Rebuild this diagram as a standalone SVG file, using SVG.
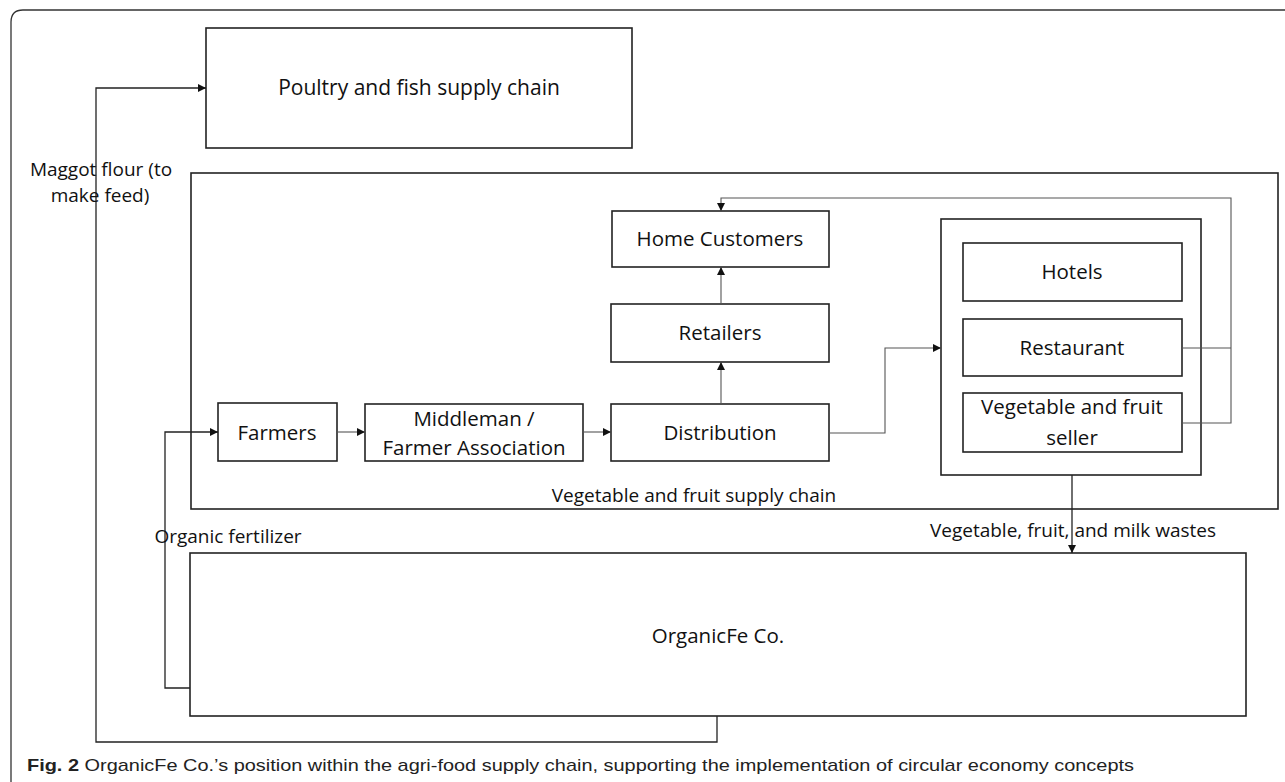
<svg xmlns="http://www.w3.org/2000/svg" width="1285" height="782" viewBox="0 0 1285 782">
<defs>
<marker id="ah" viewBox="0 0 10 10" refX="10" refY="5" markerWidth="8" markerHeight="8" markerUnits="userSpaceOnUse" orient="auto">
<path d="M0,0 L10,5 L0,10 z" fill="#111"/>
</marker>
<style>
.box{fill:#fff;stroke:#222;stroke-width:1.6}
.frame{fill:none;stroke:#222;stroke-width:1.6}
.t{font-family:"Open Sans","Liberation Sans",Arial,sans-serif;fill:#111;text-anchor:middle;font-size:20.5px}
.s{font-size:19px}
.c{fill:none;stroke:#222;stroke-width:1.3}
.cg{fill:none;stroke:#555;stroke-width:1.1}
.cap{font-family:"Liberation Sans",Arial,sans-serif;fill:#222;font-size:17px}
</style>
</defs>
<rect width="1285" height="782" fill="#fff"/>
<path d="M11 782 V22 Q11 10 23 10 H1285" fill="none" stroke="#333" stroke-width="1.3"/>

<g id="poultry">
<rect class="box" x="206" y="28" width="426" height="120"/>
<text class="t" x="419" y="95" style="font-size:21px">Poultry and fish supply chain</text>
</g>

<g id="veg-chain">
<rect class="frame" x="191" y="173" width="1087" height="336"/>
<text class="t s" x="694" y="502">Vegetable and fruit supply chain</text>
</g>

<g id="home-customers">
<rect class="box" x="612" y="211" width="217" height="56"/>
<text class="t" x="720" y="246">Home Customers</text>
</g>
<g id="retailers">
<rect class="box" x="611" y="304" width="218" height="58"/>
<text class="t" x="720" y="340">Retailers</text>
</g>
<g id="distribution">
<rect class="box" x="611" y="404" width="218" height="57"/>
<text class="t" x="720" y="440">Distribution</text>
</g>
<g id="farmers">
<rect class="box" x="218" y="403" width="119" height="58"/>
<text class="t" x="277" y="440">Farmers</text>
</g>
<g id="middleman">
<rect class="box" x="365" y="404" width="218" height="57"/>
<text class="t" x="474" y="426">Middleman /</text>
<text class="t" x="474" y="455">Farmer Association</text>
</g>

<g id="hospitality">
<rect class="frame" x="941" y="219" width="260" height="256"/>
</g>
<g id="hotels">
<rect class="box" x="963" y="243" width="219" height="58"/>
<text class="t" x="1072" y="279">Hotels</text>
</g>
<g id="restaurant">
<rect class="box" x="963" y="319" width="219" height="57"/>
<text class="t" x="1072" y="355">Restaurant</text>
</g>
<g id="veg-seller">
<rect class="box" x="963" y="393" width="219" height="59"/>
<text class="t" x="1072" y="414">Vegetable and fruit</text>
<text class="t" x="1072" y="445">seller</text>
</g>

<g id="organicfe">
<rect class="box" x="190" y="553" width="1056" height="163"/>
<text class="t" x="718" y="643">OrganicFe Co.</text>
</g>

<g id="connectors">
<path class="cg" d="M337 432 H365" marker-end="url(#ah)"/>
<path class="cg" d="M583 432 H611" marker-end="url(#ah)"/>
<path class="cg" d="M721 404 V362" marker-end="url(#ah)"/>
<path class="cg" d="M721 304 V267" marker-end="url(#ah)"/>
<path class="cg" d="M829 433 H885 V348 H941" marker-end="url(#ah)"/>
<path class="cg" d="M1182 348 H1231"/>
<path class="cg" d="M1182 423 H1231 V198 H721 V211" marker-end="url(#ah)"/>
<path class="c" d="M1072 475 V553" marker-end="url(#ah)"/>
<path class="c" d="M717 716 V742 H96 V88 H206" marker-end="url(#ah)"/>
<path class="c" d="M190 688 H165 V432 H218" marker-end="url(#ah)"/>
</g>

<g id="labels">
<text class="t s" x="101" y="176">Maggot flour (to</text>
<text class="t s" x="100" y="202">make feed)</text>
<text class="t s" x="228" y="543">Organic fertilizer</text>
<text class="t s" x="1073" y="537">Vegetable, fruit, and milk wastes</text>
</g>

<text class="cap" x="27" y="771" textLength="1107" lengthAdjust="spacingAndGlyphs"><tspan font-weight="bold">Fig. 2</tspan>  OrganicFe Co.’s position within the agri-food supply chain, supporting the implementation of circular economy concepts</text>
</svg>
